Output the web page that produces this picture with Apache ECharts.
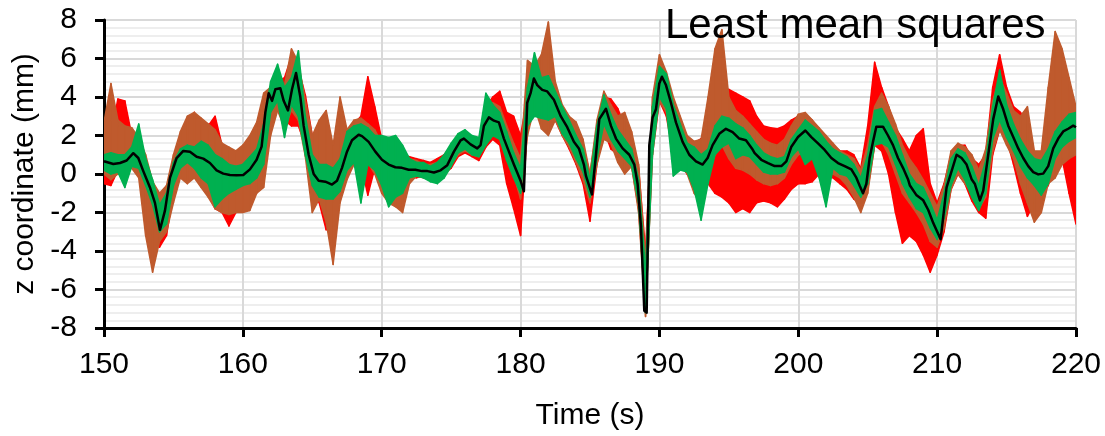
<!DOCTYPE html>
<html><head><meta charset="utf-8">
<script src="https://cdn.jsdelivr.net/npm/echarts@6/dist/echarts.min.js"></script>
<style>html,body{margin:0;padding:0;background:#fff}#c{width:1105px;height:436px}</style>
</head><body><div id="c"></div>
<script>
// Sampling grid of the noisy traces (upper / lower excursion read every 0.5 s)
const sampleStart = 150, sampleStep = 0.5;

const redHi = [
 2.5,2.0,3.9,3.8,2.0,1.5,0.8,-0.4,-1.2,-1.0,
 0.8,1.8,2.8,3.2,2.4,2.5,3.0,1.5,1.2,1.0,
 1.2,1.6,2.2,3.5,4.3,4.8,5.0,6.1,5.5,4.1,
 2.0,1.0,1.2,1.2,1.0,2.0,2.6,3.0,5.05,3.5,
 1.8,1.3,1.2,1.0,0.9,0.8,0.7,0.6,0.8,1.0,
 1.5,2.0,2.2,1.9,1.7,3.5,4.0,4.3,3.2,3.0,
 2.0,4.0,5.3,5.3,5.0,4.5,3.5,2.8,2.0,1.5,
 0.0,2.5,4.0,3.9,3.4,2.5,2.0,0.3,-4.0,3.5,
 5.8,5.0,3.5,2.5,1.8,1.6,1.84,1.5,3.0,4.2,
 4.4,4.2,4.0,3.8,3.0,2.5,2.4,2.35,2.5,2.8,
 3.0,3.1,2.8,2.3,1.9,1.5,1.2,1.2,1.0,0.3,
 2.5,5.8,4.5,3.5,2.4,1.84,1.2,2.0,2.35,-0.5,
 -1.5,-0.5,1.0,1.5,1.5,0.8,0.5,1.0,4.5,6.2,
 4.5,3.5,3.2,2.5,1.0,0.8,1.2,2.0,2.5,2.8,
 3.0];
const redLo = [
 -0.5,-0.6,0.2,0.3,0.4,0.0,-1.0,-2.0,-3.8,-3.2,
 -1.0,0.0,0.3,0.0,-0.5,-1.0,-1.8,-2.0,-2.7,-2.0,
 -1.8,-1.5,-0.8,0.0,2.5,3.5,2.8,2.5,2.5,1.5,
 -0.8,-1.5,-2.9,-1.5,-0.8,0.2,0.8,0.5,-1.1,0.3,
 -0.3,-0.8,-0.8,-0.6,-0.2,-0.2,-0.1,-0.3,-0.4,0.0,
 0.3,0.9,1.1,0.9,0.7,1.4,1.8,1.5,-0.5,-1.8,
 -3.2,2.5,3.2,3.0,2.8,2.8,2.0,1.3,0.5,-0.5,
 -2.45,0.5,2.3,1.3,1.0,0.6,0.4,-1.8,-7.1,1.0,
 3.8,3.0,1.0,0.5,0.0,-0.5,-0.8,-0.5,-1.0,-1.2,
 -1.5,-2.0,-1.8,-2.0,-1.5,-1.4,-1.5,-1.7,-1.3,-0.8,
 -0.5,-0.5,-0.4,0.0,0.0,-0.2,-0.5,-0.8,-1.3,-1.6,
 -0.8,1.5,1.2,0.0,-2.0,-3.6,-3.2,-3.5,-4.2,-5.1,
 -4.2,-3.0,-0.8,0.0,-0.5,-1.4,-2.0,-2.3,1.0,2.3,
 1.8,0.5,-1.0,-2.2,-1.5,-1.0,-0.6,0.5,0.8,-1.0,
 -2.6];

const brownHi = [
 2.7,4.7,2.8,2.5,2.4,1.9,1.0,-0.4,-1.0,-0.6,
 1.0,2.2,3.0,3.2,2.9,2.6,2.3,1.6,1.4,1.2,
 1.5,2.0,2.7,4.2,4.5,5.0,4.6,6.5,5.8,3.8,
 2.0,2.8,3.3,1.5,4.0,2.3,2.8,2.9,2.6,2.3,
 1.6,1.3,1.2,1.0,0.8,0.7,0.5,0.5,0.6,0.9,
 1.4,2.0,2.2,1.9,1.7,3.2,3.7,3.5,2.5,1.6,
 0.8,5.9,5.6,6.2,7.9,4.8,3.6,3.0,2.7,1.8,
 0.0,2.8,4.3,3.6,3.0,3.2,2.2,0.5,-4.5,4.0,
 6.2,5.3,4.0,3.0,2.0,1.7,1.8,4.0,6.5,7.5,
 4.0,3.3,3.0,2.6,2.2,1.8,1.6,1.5,1.8,2.5,
 3.1,3.2,2.8,2.4,2.0,1.6,1.2,1.0,0.8,0.2,
 1.5,3.5,4.2,3.5,2.6,1.5,0.8,0.3,-0.3,-1.0,
 -1.7,-0.6,1.2,1.6,1.4,1.0,0.2,1.3,3.8,5.0,
 4.2,3.3,3.0,3.5,1.2,1.2,4.5,7.4,6.5,5.0,
 3.5];
const brownLo = [
 0.0,-0.3,0.0,0.2,0.3,-0.2,-3.2,-5.1,-3.5,-3.0,
 -1.5,-0.2,-0.5,-0.2,-0.7,-1.2,-1.8,-2.0,-2.1,-2.0,
 -2.0,-1.9,-1.0,-0.7,2.0,3.3,2.4,3.3,2.8,0.9,
 -2.0,-1.3,-2.5,-4.7,-1.5,-0.3,0.5,0.4,0.6,0.0,
 -1.0,-1.5,-1.7,-2.0,-0.5,-0.1,-0.2,-0.3,-0.2,0.0,
 0.5,1.0,1.2,1.0,0.9,1.6,2.0,1.9,0.8,0.0,
 -1.3,2.0,3.5,2.35,2.0,2.8,2.0,1.4,0.6,-0.3,
 -1.5,0.5,1.8,1.6,0.6,0.0,0.4,-2.0,-7.4,1.5,
 3.8,3.2,1.2,0.8,0.0,-1.0,-1.5,0.0,1.0,1.5,
 0.8,0.3,0.2,0.0,-0.3,-0.5,-0.6,-0.5,-0.2,0.5,
 1.0,1.2,1.0,0.6,0.3,0.0,-0.2,-0.6,-1.2,-2.0,
 -1.0,1.5,1.7,1.0,0.0,-1.0,-1.5,-2.0,-2.6,-3.5,
 -3.8,-2.8,-0.8,0.0,-0.5,-1.0,-1.8,-1.2,1.2,2.3,
 1.5,0.8,-0.5,-1.5,-2.5,-2.0,-0.5,-0.2,0.5,0.8,
 1.0];

const greenHi = [
 1.0,1.1,1.0,1.0,1.4,2.6,0.8,-0.3,-1.6,-1.0,
 0.6,1.3,1.5,1.4,1.7,1.5,1.0,0.8,0.5,0.4,
 0.5,0.9,1.3,2.6,4.8,5.7,4.5,5.0,6.4,3.0,
 1.0,0.5,0.5,0.3,0.8,2.2,2.5,2.6,2.4,2.0,
 2.0,1.9,2.0,1.5,0.8,0.6,0.6,0.4,0.6,1.0,
 1.6,2.1,2.3,2.0,1.9,4.2,3.6,3.2,2.2,1.1,
 0.3,4.5,6.3,5.0,5.1,4.3,3.5,2.8,2.0,1.3,
 -0.3,2.5,4.1,3.1,2.3,1.8,1.3,-0.3,-5.0,3.5,
 5.6,5.2,3.6,2.6,1.6,1.4,1.0,1.3,2.5,3.0,
 2.9,2.6,2.4,2.0,1.5,1.1,0.9,0.8,0.9,1.8,
 2.3,2.8,2.5,2.2,1.7,1.3,1.1,0.9,0.5,-0.2,
 1.0,3.3,3.4,2.7,2.0,1.0,0.0,-0.5,-0.7,-1.5,
 -2.4,-1.0,0.8,1.3,1.1,0.4,-0.6,0.7,3.5,5.4,
 3.6,2.6,1.8,1.2,0.8,0.7,1.3,2.2,2.7,3.1,
 3.2];
const greenLo = [
 0.2,0.0,0.1,-0.7,0.4,0.3,-0.6,-1.6,-3.0,-2.6,
 -0.6,0.3,0.6,0.3,-0.2,-0.5,-1.7,-1.3,-1.0,-0.8,
 -0.6,-0.5,-0.2,0.5,3.2,3.8,1.9,3.6,3.0,1.0,
 -0.6,-1.2,-1.3,-1.3,-0.9,0.2,0.6,-1.5,0.5,0.2,
 -0.6,-1.7,-1.2,-1.0,-0.2,-0.1,-0.2,-0.4,-0.5,-0.2,
 0.4,1.1,1.3,1.0,0.9,1.5,2.0,1.8,0.7,-0.2,
 -1.0,2.5,3.0,2.9,2.8,3.0,2.1,1.6,0.8,0.1,
 -1.2,0.8,2.6,1.8,1.2,0.8,0.4,-1.5,-7.2,1.0,
 4.0,3.4,-0.1,0.2,0.1,-0.8,-2.4,-0.5,1.0,1.4,
 1.6,0.8,1.0,0.9,0.5,0.1,0.0,0.0,0.1,0.9,
 1.3,0.5,0.8,-0.2,-1.7,0.3,0.0,-0.1,-0.6,-1.2,
 -0.5,1.5,1.6,1.4,0.5,-0.5,-1.2,-1.8,-2.0,-2.8,
 -3.4,-2.3,-0.6,0.3,-0.3,-1.2,-1.9,-1.0,1.8,2.8,
 1.9,1.2,0.4,-0.2,-0.6,-1.1,-0.5,0.8,1.4,1.7,
 1.9];

// Smoothed (black) trace: times and values
const blackT = [150.0,150.67,151.15,151.63,152.11,152.47,152.83,153.31,153.67,154.03,154.39,154.75,155.23,155.71,156.19,156.67,157.15,157.63,158.11,158.59,159.07,159.55,160.03,160.51,160.99,161.35,161.62,161.86,162.1,162.34,162.7,162.94,163.25,163.54,163.83,164.14,164.38,164.74,165.1,165.46,165.94,166.42,166.78,167.14,167.5,167.86,168.34,168.58,169.06,169.54,170.02,170.5,170.98,171.46,171.94,172.42,172.9,173.3,173.76,174.24,174.72,175.2,175.68,175.92,176.4,176.88,177.12,177.36,177.72,178.08,178.44,178.8,179.16,179.52,180.0,180.24,180.48,180.72,180.96,181.2,181.56,181.92,182.4,182.88,183.36,183.84,184.2,184.56,184.71,185.14,185.43,185.67,186.15,186.51,186.87,187.35,187.83,188.19,188.43,188.67,188.91,189.08,189.27,189.51,189.75,189.99,190.18,190.47,190.83,191.19,191.67,192.15,192.63,193.11,193.47,193.83,194.31,194.79,195.27,195.75,196.23,196.66,196.86,197.34,197.82,198.3,198.78,199.14,199.5,199.98,200.51,200.94,201.42,201.9,202.38,202.86,203.34,203.82,204.18,204.42,204.66,204.9,205.14,205.38,205.62,206.1,206.46,206.82,207.18,207.54,207.9,208.04,208.52,209.0,209.36,209.72,210.25,210.44,210.68,211.04,211.4,211.76,212.12,212.48,212.72,213.08,213.32,213.68,214.04,214.4,214.76,215.12,215.48,215.84,216.2,216.56,216.92,217.28,217.64,218.0,218.36,218.72,219.08,219.44,219.8,220.0];
const blackV = [0.66,0.52,0.57,0.70,1.08,0.83,0.15,-0.70,-1.50,-2.90,-1.90,-0.20,0.83,1.20,1.16,0.90,0.80,0.57,0.19,0.02,-0.05,-0.07,-0.05,0.24,0.74,1.42,3.2,4.2,3.8,4.4,4.45,3.8,3.3,4.4,5.25,4.0,2.5,1.0,0.0,-0.35,-0.4,-0.55,-0.35,0.32,1.16,1.75,2.04,1.97,1.67,1.16,0.74,0.49,0.35,0.32,0.22,0.22,0.15,0.15,0.08,0.19,0.46,1.16,1.75,1.84,1.54,1.33,1.5,2.5,2.94,2.77,2.68,1.84,1.16,0.49,-0.35,-0.9,3.7,4.2,4.96,4.62,4.37,4.29,3.86,3.02,2.43,1.67,1.33,0.49,-0.1,-1.06,1.0,2.85,3.39,2.5,1.84,1.33,1.0,0.49,-0.52,-2.72,-7.1,-7.2,1.5,2.94,3.36,4.7,5.05,4.62,3.7,2.68,1.67,1.0,0.66,0.49,0.83,1.5,2.09,2.35,2.18,1.84,1.75,1.33,1.08,0.74,0.57,0.41,0.41,0.66,1.42,1.92,2.26,1.92,1.59,1.25,0.83,0.57,0.41,0.24,-0.19,-0.61,-1.0,-0.52,0.83,1.67,2.46,2.46,2.0,1.5,0.83,0.32,-0.27,-0.6,-1.11,-1.37,-1.87,-2.55,-3.39,-2.21,-0.69,0.15,1.0,0.83,0.49,-0.27,-0.52,-1.37,-0.86,1.0,2.85,4.03,3.36,2.51,1.92,1.33,0.83,0.41,0.1,-0.02,0.02,0.41,1.33,1.84,2.21,2.35,2.51,2.43];

const xTickInterval = 10, yTickInterval = 2;
const titleText = 'Least mean squares';
const xName = 'Time (s)', yName = 'z coordinate (mm)';

const FONT = 'Liberation Sans, Arial, sans-serif';
const timeAt = i => sampleStart + i * sampleStep;

// A noisy trace drawn as its excursion band: one quad per sampling interval,
// each item = [t0, hi0, lo0, t1, hi1, lo1], placed through the axes with api.coord.
function bandSeries(name, hi, lo, color, z) {
  const data = [];
  for (let i = 0; i < hi.length - 1; i++) {
    data.push([timeAt(i), hi[i], lo[i], timeAt(i + 1), hi[i + 1], lo[i + 1]]);
  }
  return {
    name, type: 'custom', z, silent: true, animation: false, clip: true,
    encode: {x: [0, 3], y: [1, 2, 4, 5]},
    data,
    renderItem(params, api) {
      const a = api.coord([api.value(0), api.value(1)]);
      const b = api.coord([api.value(3), api.value(4)]);
      const c = api.coord([api.value(3), api.value(5)]);
      const d = api.coord([api.value(0), api.value(2)]);
      return {type: 'polygon', shape: {points: [a, b, c, d]},
        style: {fill: color, stroke: color, lineWidth: 1.5, lineJoin: 'round'}};
    }
  };
}
const blackData = blackT.map((t, i) => [t, blackV[i]]);

const chart = echarts.init(document.getElementById('c'), null, {renderer: 'canvas'});
chart.setOption({
  animation: false,
  backgroundColor: '#fff',
  title: {text: titleText, left: 660, top: 0,
    textStyle: {fontSize: 42, fontWeight: 'normal', color: '#000', fontFamily: FONT}},
  grid: {left: 104, right: 29, top: 20, bottom: 100, containLabel: false},
  xAxis: {type: 'value', min: 150, max: 220, interval: xTickInterval,
    name: xName, nameLocation: 'middle', nameGap: 73,
    nameTextStyle: {fontSize: 30, color: '#000', fontFamily: FONT},
    axisLine: {show: true, onZero: false, lineStyle: {color: '#000', width: 3}},
    axisTick: {show: true, length: 9, lineStyle: {color: '#000', width: 3}},
    axisLabel: {fontSize: 30, color: '#000', margin: 22, fontFamily: FONT},
    splitLine: {show: true, lineStyle: {color: '#d9d9d9', width: 2}}},
  yAxis: {type: 'value', min: -8, max: 8, interval: yTickInterval,
    name: yName, nameLocation: 'middle', nameGap: 63, nameRotate: 90,
    nameTextStyle: {fontSize: 30, color: '#000', fontFamily: FONT},
    axisLine: {show: true, lineStyle: {color: '#000', width: 3}},
    axisTick: {show: true, length: 9, lineStyle: {color: '#000', width: 3}},
    axisLabel: {fontSize: 30, color: '#000', margin: 27, fontFamily: FONT},
    splitLine: {show: true, lineStyle: {color: '#d9d9d9', width: 2}},
    minorTick: {show: false, splitNumber: 5},
    minorSplitLine: {show: true, lineStyle: {color: '#eeeeee', width: 2}}},
  series: [
    bandSeries('red', redHi, redLo, '#ff0000', 2),
    bandSeries('brown', brownHi, brownLo, '#bf5a2d', 3),
    bandSeries('green', greenHi, greenLo, '#00b050', 4),
    {name: 'smooth', type: 'line', data: blackData, showSymbol: false, symbol: 'none', z: 5,
     lineStyle: {color: '#000', width: 2.5, join: 'round'}, animation: false, silent: true}
  ]
});
</script></body></html>
